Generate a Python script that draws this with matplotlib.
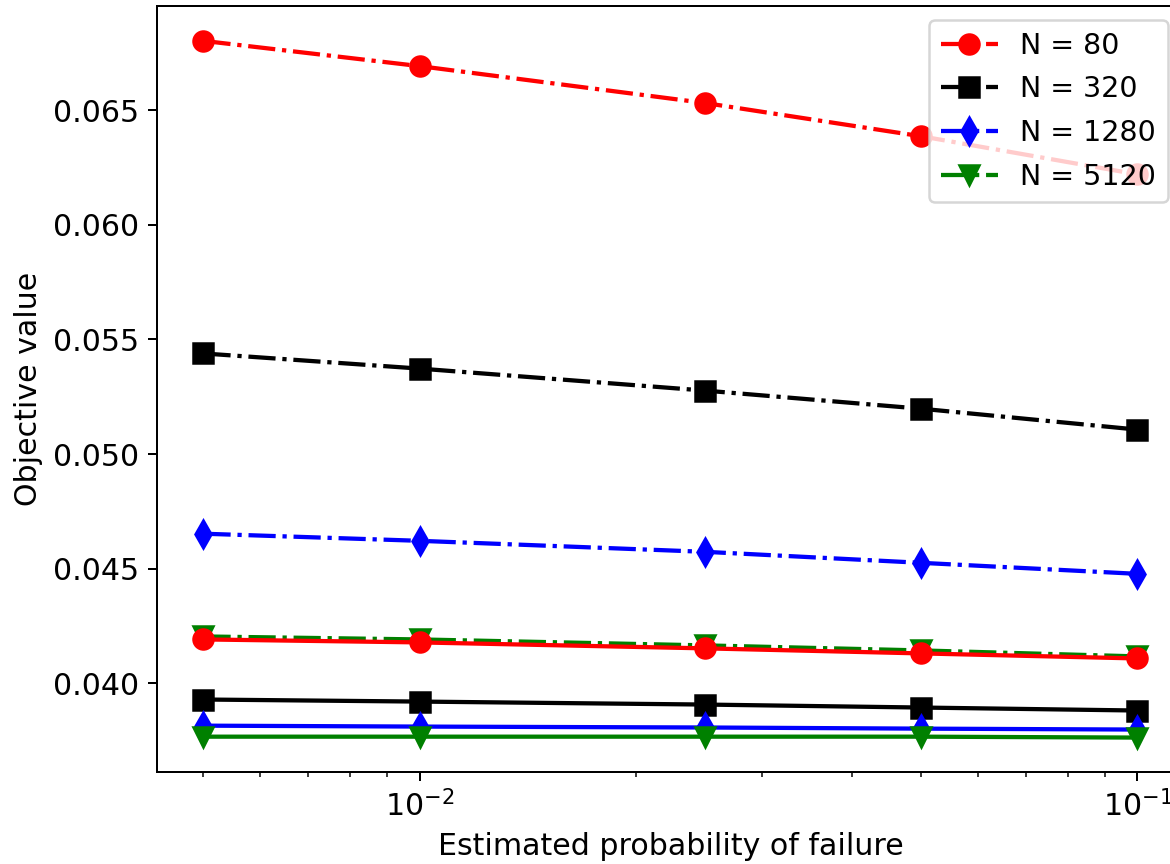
import matplotlib
matplotlib.use("Agg")
import matplotlib.pyplot as plt

# Estimated probability of failure
p_fail = [0.005, 0.01, 0.025, 0.05, 0.1]

labels = ["N = 80", "N = 320", "N = 1280", "N = 5120"]
colors = ["red", "black", "blue", "green"]
markers = ["o", "s", "d", "v"]

# dash-dot series (labelled in legend)
obj_dashdot = [
    [0.06802, 0.06692, 0.06531, 0.06386, 0.06220],
    [0.05439, 0.05373, 0.05277, 0.05198, 0.05107],
    [0.04653, 0.04622, 0.04574, 0.04526, 0.04478],
    [0.04205, 0.04192, 0.04166, 0.04144, 0.04118],
]

# solid series
obj_solid = [
    [0.04192, 0.04179, 0.04153, 0.04131, 0.04109],
    [0.03930, 0.03921, 0.03908, 0.03895, 0.03882],
    [0.03816, 0.03812, 0.03808, 0.03803, 0.03799],
    [0.03768, 0.03768, 0.03768, 0.03768, 0.03764],
]

plt.rcParams["font.size"] = 12

fig, ax = plt.subplots(figsize=(6.5, 4.8), dpi=180)
fig.subplots_adjust(left=0.134, right=1.012, top=0.993, bottom=0.106)

for i in range(4):
    ax.plot(p_fail, obj_dashdot[i], linestyle="-.", color=colors[i],
            marker=markers[i], markersize=8, linewidth=1.7, label=labels[i])
for i in range(4):
    ax.plot(p_fail, obj_solid[i], linestyle="-", color=colors[i],
            marker=markers[i], markersize=8, linewidth=1.7)

ax.set_xscale("log")
ax.set_xlabel("Estimated probability of failure")
ax.set_ylabel("Objective value")
ax.legend(loc="upper right", bbox_to_anchor=(0.998, 1.0), fontsize=11.4,
          labelspacing=0.55)

fig.savefig("out.png")
